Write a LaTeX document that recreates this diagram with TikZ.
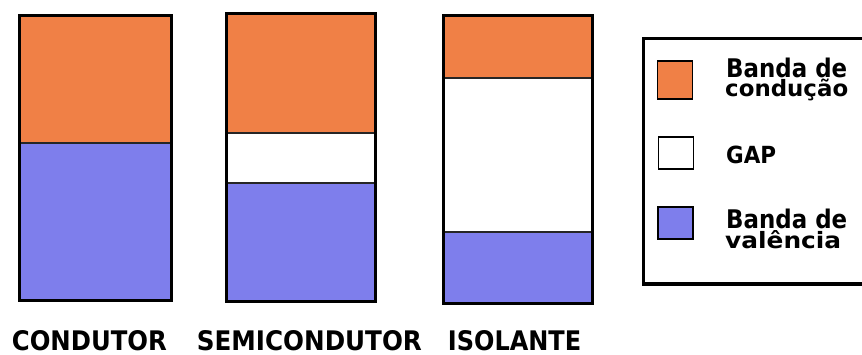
\documentclass[tikz,border=0pt]{standalone}
\usepackage{fontspec}
\setmainfont{DejaVu Sans}
\definecolor{cond}{RGB}{240,128,70}
\definecolor{val}{RGB}{126,126,236}
\tikzset{
  outline/.style={draw=black, line width=3pt},
  divider/.style={draw=black!85, line width=1.2pt},
  swatch/.style={draw=black, line width=1.3pt},
  lbl/.style={inner sep=0pt, anchor=base west}
}
\newcommand{\mylab}[3]{\resizebox{#1pt}{#2pt}{\bfseries #3}}
\newcommand{\myleg}[3]{\resizebox{#1pt}{#2pt}{\bfseries #3}}
\begin{document}
\begin{tikzpicture}[x=1pt,y=-1pt]
\useasboundingbox (0,0) rectangle (862,354);
% CONDUTOR
\fill[cond] (19.5,15) rectangle (171,143);
\fill[val] (19.5,143) rectangle (171,300);
\draw[divider] (19.5,143) -- (171,143);
\draw[outline] (19.5,15) rectangle (171,300);
% SEMICONDUTOR
\fill[cond] (226,13) rectangle (375,133);
\fill[white] (226,133) rectangle (375,183);
\fill[val] (226,183) rectangle (375,301);
\draw[divider] (226,133) -- (375,133);
\draw[divider] (226,183) -- (375,183);
\draw[outline] (226,13) rectangle (375,301);
% ISOLANTE
\fill[cond] (443,15) rectangle (592,78);
\fill[white] (443,78) rectangle (592,232);
\fill[val] (443,232) rectangle (592,303);
\draw[divider] (443,78) -- (592,78);
\draw[divider] (443,232) -- (592,232);
\draw[outline] (443,15) rectangle (592,303);
% labels
\node[lbl] (condutor) at (11.7,350) {\mylab{155}{20}{CONDUTOR}};
\node[lbl] (semi) at (196.7,350) {\mylab{225}{20}{SEMICONDUTOR}};
\node[lbl] (iso) at (447.7,350) {\mylab{133.3}{20}{ISOLANTE}};
% legend
\draw[outline, line width=3.5pt] (643.5,38.5) rectangle (885,284);
\draw[swatch, fill=cond] (657.5,61) rectangle (692.5,99);
\draw[swatch, fill=white] (658.5,137) rectangle (693.5,169);
\draw[swatch, fill=val] (658,207) rectangle (693,239);
\node[lbl] (l1a) at (726,77) {\myleg{121}{19.5}{Banda de}};
\node[lbl] (l1b) at (725,96.5) {\myleg{123}{17.5}{condução}};
\node[lbl] (l2) at (726,163.5) {\myleg{50}{17.5}{GAP}};
\node[lbl] (l3a) at (726,228) {\myleg{121}{19.5}{Banda de}};
\node[lbl] (l3b) at (725,248.5) {\myleg{116}{18}{valência}};
\end{tikzpicture}
\end{document}
